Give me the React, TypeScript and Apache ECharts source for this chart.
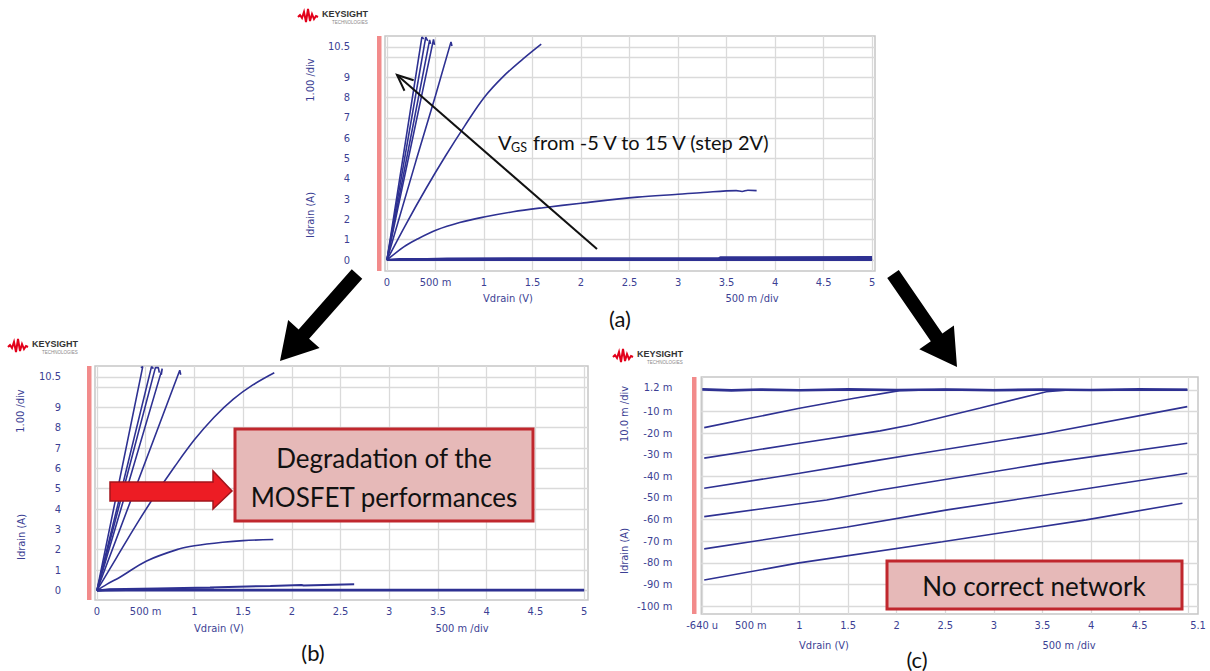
import React, { useEffect, useRef } from "react";
import * as echarts from "echarts";

// ---------- Panel (a): Idrain (A) vs Vdrain (V), VGS -5 V .. 15 V ----------
const aOff1 = [[0, 0], [5.0, 0]];
const aOff2 = [[0, 0], [0.13, 0.05], [5.0, 0.05]];
const aOff3 = [[0, 0], [0.62, 0.08], [3.42, 0.09], [3.44, 0.14], [5.0, 0.15]];
const aOff4 = [[0, 0], [0.3, 0.03], [5.0, 0.04]];
const aSat = [[0, 0], [0.17, 0.64], [0.3, 1.0], [0.51, 1.48], [0.75, 1.85], [1.0, 2.12], [1.3, 2.38], [1.61, 2.58], [2.0, 2.8], [2.58, 3.1], [3.0, 3.24], [3.26, 3.33], [3.6, 3.42], [3.66, 3.38], [3.72, 3.44], [3.81, 3.42]];
const aMid = [[0, 0], [0.2, 1.8], [0.4, 3.5], [0.6, 5.1], [0.8, 6.6], [1.0, 8.0], [1.2, 9.05], [1.4, 9.9], [1.59, 10.64]];
const aLin = [[0, 0], [0.3, 4.9], [0.5, 8.1], [0.66, 10.75], [0.67, 10.55]];
const aSteep1 = [[0, 0], [0.36, 10.98], [0.38, 10.9]];
const aSteep2 = [[0, 0], [0.4, 10.98], [0.42, 10.8]];
const aSteep3 = [[0, 0], [0.44, 10.85], [0.45, 10.65]];
const aSteep4 = [[0, 0], [0.48, 10.87], [0.49, 10.6]];
const panelA = [aOff1, aOff2, aOff3, aOff4, aSat, aMid, aLin, aSteep1, aSteep2, aSteep3, aSteep4];

// ---------- Panel (b): degraded MOSFET ----------
const bOff1 = [[0, 0], [5.0, 0]];
const bOff2 = [[0, 0], [0.13, 0.03], [5.0, 0.03]];
const bOff3 = [[0, 0], [0.13, 0.06], [0.62, 0.1], [1.16, 0.15], [1.78, 0.22], [2.1, 0.27], [2.12, 0.24], [2.64, 0.3]];
const bOff4 = [[0, 0], [0.6, 0.04], [1.2, 0.05]];
const bSat = [[0, 0], [0.1, 0.3], [0.24, 0.66], [0.51, 1.45], [0.85, 2.05], [1.0, 2.2], [1.29, 2.37], [1.5, 2.45], [1.81, 2.5]];
const bMid = [[0, 0], [0.2, 1.6], [0.4, 3.2], [0.6, 4.7], [0.8, 6.1], [1.0, 7.4], [1.2, 8.5], [1.4, 9.4], [1.6, 10.1], [1.82, 10.7]];
const bLin = [[0, 0], [0.85, 10.82], [0.86, 10.6]];
const bSteep1 = [[0, 0], [0.47, 11.0], [0.45, 10.95]];
const bSteep2 = [[0, 0], [0.56, 11.0], [0.58, 10.9]];
const bSteep3 = [[0, 0], [0.6, 10.95], [0.63, 10.95], [0.64, 10.7]];
const bSteep4 = [[0, 0], [0.67, 10.9], [0.66, 10.6]];
const panelB = [bOff1, bOff2, bOff3, bOff4, bSat, bMid, bLin, bSteep1, bSteep2, bSteep3, bSteep4];

// ---------- Panel (c): no correct network (Idrain in mA) ----------
const cFlat = [[0, 0.2], [0.3, -0.3], [0.6, 0.1], [1.0, -0.2], [1.5, 0.2], [2.0, -0.1], [2.5, 0.1], [3.0, -0.2], [3.5, 0.1], [4.0, -0.1], [4.5, 0.2], [4.99, 0]];
const cTrace1 = [[0.02, -17.5], [0.49, -13.2], [1.0, -8.5], [1.55, -4.0], [2.03, -0.4], [2.5, 0.1], [3.5, -0.1], [4.99, 0.1]];
const cTrace2 = [[0.02, -31.6], [1.0, -24.7], [1.83, -19.0], [2.14, -16.3], [2.86, -8.4], [3.54, -0.9], [3.8, 0], [4.99, -0.2]];
const cTrace3 = [[0.02, -45.5], [1.0, -38.6], [1.83, -32.4], [2.14, -30.1], [3.54, -20.1], [4.99, -7.8]];
const cTrace4 = [[0.02, -58.6], [1.28, -50.9], [1.83, -46.3], [3.54, -33.9], [4.99, -24.7]];
const cTrace5 = [[0.02, -73.5], [1.49, -63.4], [2.52, -55.5], [3.2, -50.9], [4.99, -38.6]];
const cTrace6 = [[0.02, -87.9], [0.98, -80.1], [2.47, -70.2], [3.95, -60.1], [4.94, -52.4]];
const panelC = [cFlat, cTrace1, cTrace2, cTrace3, cTrace4, cTrace5, cTrace6];

// ---------- Ticks / labels ----------
const xTicksIV = [0, 0.5, 1, 1.5, 2, 2.5, 3, 3.5, 4, 4.5, 5];
const yTicksIV = [0, 1, 2, 3, 4, 5, 6, 7, 8, 9, 10, 10.5];
const yLabelsIV = [0, 1, 2, 3, 4, 5, 6, 7, 8, 9, 10.5];
const xTicksC = [0, 0.5, 1, 1.5, 2, 2.5, 3, 3.5, 4, 4.5, 5];
const xLabelsC = [-0.00064, 0.5, 1, 1.5, 2, 2.5, 3, 3.5, 4, 4.5, 5.1];
const yTicksC = [0, -10, -20, -30, -40, -50, -60, -70, -80, -90, -100];
const yLabelsC = [1.2, -10, -20, -30, -40, -50, -60, -70, -80, -90, -100];

const TRACE = "#2e3192";
const LABEL = "#3c3f94";
const GRID = "#dadada";
const NARROW = "'Liberation Sans Narrow', 'Arial Narrow', 'DejaVu Sans Condensed', 'Liberation Sans', sans-serif";
const CAL = "Lato, 'Open Sans', sans-serif";

const fmtIV = (v: number) => (v === 0.5 ? "500 m" : String(v));
const fmtXC = (v: number) => (v < 0 ? "-640 u" : v === 0.5 ? "500 m" : String(v));
const fmtYC = (v: number) => `${v} m`;

function xAxisDef(gi: number, min: number, max: number, ticks: number[], labels: number[], fmt: (v: number) => string) {
  return {
    type: "value", gridIndex: gi, min, max,
    axisLine: { show: false },
    axisTick: { show: false, customValues: ticks },
    axisLabel: { customValues: labels, formatter: fmt, color: LABEL, fontFamily: NARROW, fontSize: 11, margin: 6 },
    splitLine: { show: true, lineStyle: { color: GRID, width: 1.3 } },
  };
}
function yAxisDef(gi: number, min: number, max: number, ticks: number[], labels: number[], fmt: (v: number) => string, margin: number) {
  return {
    type: "value", gridIndex: gi, min, max,
    axisLine: { show: false },
    axisTick: { show: false, customValues: ticks },
    axisLabel: { customValues: labels, formatter: fmt, color: LABEL, fontFamily: NARROW, fontSize: 11, margin },
    splitLine: { show: true, lineStyle: { color: GRID, width: 1.3 } },
  };
}

function arrowPts(x1: number, y1: number, x2: number, y2: number, sw: number, hw: number, hl: number) {
  const dx = x2 - x1, dy = y2 - y1, L = Math.hypot(dx, dy);
  const ux = dx / L, uy = dy / L, px = -uy, py = ux;
  const bx = x2 - ux * hl, by = y2 - uy * hl;
  return [
    [x1 + px * sw, y1 + py * sw], [bx + px * sw, by + py * sw], [bx + px * hw, by + py * hw],
    [x2, y2], [bx - px * hw, by - py * hw], [bx - px * sw, by - py * sw], [x1 - px * sw, y1 - py * sw],
  ];
}

function logo(x: number, y: number) {
  return {
    type: "group", x, y, z: 100,
    children: [
      { type: "polyline", shape: { points: [[0, 9], [2, 7], [4, 10], [6, 4], [8, 14], [10, 1], [12, 13], [14, 6], [16, 11], [18, 8], [20, 9]] }, style: { stroke: "#e2001a", lineWidth: 2, fill: null } },
      { type: "text", x: 24, y: 1, style: { text: "KEYSIGHT", fontSize: 9, fontWeight: "bold", fontFamily: "'Liberation Sans', Arial, sans-serif", fill: "#333" } },
      { type: "text", x: 34, y: 11.5, style: { text: "TECHNOLOGIES", fontSize: 4.5, fontFamily: "'Liberation Sans', Arial, sans-serif", fill: "#888" } },
    ],
  };
}

function vText(x: number, y: number, text: string) {
  return { type: "text", x, y, rotation: Math.PI / 2, z: 100, style: { text, fill: LABEL, fontFamily: NARROW, fontSize: 11, textAlign: "center", textVerticalAlign: "middle" } };
}
function hText(x: number, y: number, text: string, size = 11, fill = LABEL, family = NARROW) {
  return { type: "text", x, y, z: 100, style: { text, fill, fontFamily: family, fontSize: size, textAlign: "center", textVerticalAlign: "middle" } };
}

export default function App() {
  const ref = useRef<HTMLDivElement>(null);
  useEffect(() => {
    document.body.style.margin = "0";
    const chart = echarts.init(ref.current!, null, { renderer: "svg" });
    const mk = (data: number[][], xi: number, w: number, smooth: number) => ({
      type: "line", xAxisIndex: xi, yAxisIndex: xi, data, showSymbol: false, symbol: "none",
      smooth,
      lineStyle: { color: TRACE, width: w }, clip: true, silent: true,
    });
    const series: any[] = [];
    panelA.forEach((d, i) => series.push(mk(d, 0, i < 4 ? 2 : 1.6, i === 4 || i === 5 ? 0.35 : 0)));
    panelB.forEach((d, i) => series.push(mk(d, 1, i < 4 ? 2 : 1.6, i === 4 || i === 5 ? 0.35 : 0)));
    panelC.forEach((d, i) => series.push(mk(d, 2, i === 0 ? 2.6 : 1.6, 0)));

    const thinHead = (() => {
      const x1 = 597, y1 = 249, x2 = 397, y2 = 75;
      const L = Math.hypot(x2 - x1, y2 - y1), ux = (x2 - x1) / L, uy = (y2 - y1) / L;
      const bx = x2 - ux * 16, by = y2 - uy * 16;
      return [[bx - uy * 7, by + ux * 7], [x2, y2], [bx + uy * 7, by - ux * 7]];
    })();

    const graphic: any[] = [
      // red vertical bars
      { type: "rect", z: 100, shape: { x: 377, y: 36, width: 4.5, height: 235 }, style: { fill: "#f28b8b" } },
      { type: "rect", z: 100, shape: { x: 87, y: 366, width: 4.5, height: 234 }, style: { fill: "#f28b8b" } },
      { type: "rect", z: 100, shape: { x: 692, y: 377, width: 4.5, height: 237 }, style: { fill: "#f28b8b" } },
      logo(298, 8), logo(8, 338), logo(613, 348),
      // axis names
      vText(310, 80, "1.00 /div"), vText(310, 215, "Idrain (A)"),
      vText(20, 411, "1.00 /div"), vText(21, 537, "Idrain (A)"),
      vText(624, 414, "10.0 m /div"), vText(624, 551, "Idrain (A)"),
      hText(508, 298, "Vdrain (V)"), hText(752, 298, "500 m /div"),
      hText(219, 628, "Vdrain (V)"), hText(462, 628, "500 m /div"),
      hText(824, 645, "Vdrain (V)"), hText(1069, 645, "500 m /div"),
      // panel captions
      hText(620, 318, "(a)", 22, "#111", CAL),
      hText(313, 652, "(b)", 22, "#111", CAL),
      hText(917, 659, "(c)", 22, "#111", CAL),
      // VGS annotation arrow
      { type: "line", z: 100, shape: { x1: 597, y1: 249, x2: 397, y2: 75 }, style: { stroke: "#111", lineWidth: 2 } },
      { type: "polyline", z: 100, shape: { points: thinHead }, style: { stroke: "#111", lineWidth: 2, fill: null } },
      { type: "text", z: 100, x: 498, y: 142, style: { text: "V", fontSize: 20, fontFamily: CAL, fill: "#111", textVerticalAlign: "middle" } },
      { type: "text", z: 100, x: 511, y: 147, style: { text: "GS", fontSize: 12.5, fontFamily: CAL, fill: "#111", textVerticalAlign: "middle" } },
      { type: "text", z: 100, x: 533, y: 142, style: { text: "from -5 V to 15 V (step 2V)", fontSize: 20, fontFamily: CAL, fill: "#111", textVerticalAlign: "middle" } },
      // big black arrows
      { type: "polygon", z: 100, shape: { points: arrowPts(357, 274, 280, 361, 7, 21, 36) }, style: { fill: "#000" } },
      { type: "polygon", z: 100, shape: { points: arrowPts(893, 274, 957, 367, 7, 21, 36) }, style: { fill: "#000" } },
      // red arrow (b)
      { type: "polygon", z: 100, shape: { points: [[110, 482], [213, 482], [213, 471], [232, 491], [213, 509], [213, 501], [110, 501]] }, style: { fill: "#ed1c24", stroke: "#a3141b", lineWidth: 1.5 } },
      // boxes
      { type: "rect", z: 100, shape: { x: 235, y: 429, width: 298, height: 92 }, style: { fill: "#e6b9b8", stroke: "#c0272d", lineWidth: 3 } },
      hText(384, 458, "Degradation of the", 26, "#111", CAL),
      hText(384, 497, "MOSFET performances", 26, "#111", CAL),
      { type: "rect", z: 100, shape: { x: 887, y: 561, width: 295, height: 48 }, style: { fill: "#e6b9b8", stroke: "#c0272d", lineWidth: 3 } },
      hText(1034, 586, "No correct network", 26, "#111", CAL),
    ];

    chart.setOption({
      animation: false,
      backgroundColor: "#fff",
      grid: [
        { left: 385, top: 36, width: 490, height: 235, show: true, borderColor: "#c6c6c6", borderWidth: 1.5 },
        { left: 95, top: 366, width: 493, height: 234, show: true, borderColor: "#c6c6c6", borderWidth: 1.5 },
        { left: 701.3, top: 377, width: 496.7, height: 237, show: true, borderColor: "#c6c6c6", borderWidth: 1.5 },
      ],
      xAxis: [
        xAxisDef(0, -0.02, 5.03, xTicksIV, xTicksIV, fmtIV),
        xAxisDef(1, -0.02, 5.04, xTicksIV, xTicksIV, fmtIV),
        xAxisDef(2, -0.01, 5.1, xTicksC, xLabelsC, fmtXC),
      ],
      yAxis: [
        yAxisDef(0, -0.54, 11.04, yTicksIV, yLabelsIV, (v: number) => String(v), 35),
        yAxisDef(1, -0.47, 11.03, yTicksIV, yLabelsIV, (v: number) => String(v), 34),
        yAxisDef(2, -103.6, 5.9, yTicksC, yLabelsC, fmtYC, 29),
      ],
      series,
      graphic,
    });
    return () => chart.dispose();
  }, []);
  return <div ref={ref} style={{ position: "absolute", left: 0, top: 0, width: 1210, height: 671 }} />;
}
